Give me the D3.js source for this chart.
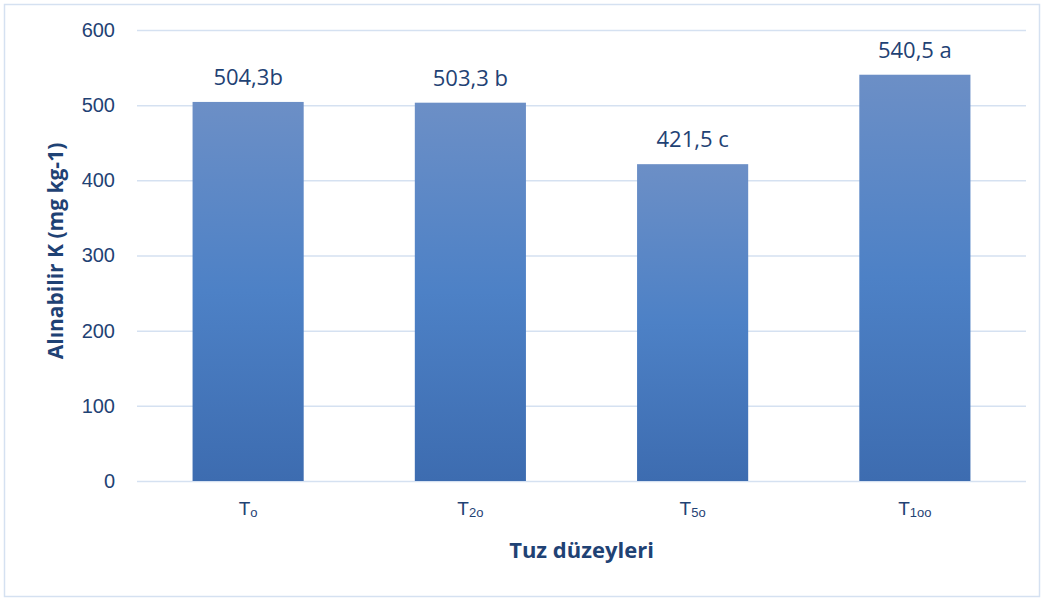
<!DOCTYPE html>
<html>
<head>
<meta charset="utf-8">
<script src="https://cdn.jsdelivr.net/npm/d3@7"></script>
<style>
  body { margin: 0; background: #fff; }
  svg { font-family: "Open Sans", "Liberation Sans", sans-serif; }
</style>
</head>
<body>
<svg id="chart" width="1044" height="601"></svg>
<script>
// data
var levels = ["To", "T2o", "T5o", "T1oo"];
var subs = ["o", "2o", "5o", "1oo"];
var values = [504.3, 503.3, 421.5, 540.5];
var labels = ["504,3b", "503,3 b", "421,5 c", "540,5 a"];
var yTicks = [0, 100, 200, 300, 400, 500, 600];

var W = 1044, H = 601;
var margin = {left: 137, right: 18, top: 30, bottom: 120};
var TEXT = "#1f4274";

var svg = d3.select("#chart");

// outer frame
svg.append("rect")
    .attr("x", 4.5).attr("y", 4.5)
    .attr("width", W - 9).attr("height", H - 9)
    .style("fill", "#fff")
    .style("stroke", "#d5e1f1")
    .style("stroke-width", 1.5);

var defs = svg.append("defs");
var grad = defs.append("linearGradient")
    .attr("id", "barGrad")
    .attr("x1", 0).attr("y1", 0).attr("x2", 0).attr("y2", 1);
grad.append("stop").attr("offset", "0%").attr("stop-color", "#6c8fc6");
grad.append("stop").attr("offset", "50%").attr("stop-color", "#4d81c6");
grad.append("stop").attr("offset", "100%").attr("stop-color", "#3d6cb0");

var x = d3.scaleBand()
    .domain(levels)
    .range([margin.left, W - margin.right])
    .paddingInner(0.5)
    .paddingOuter(0.25);

var y = d3.scaleLinear()
    .domain([0, 600])
    .range([H - margin.bottom, margin.top]);

// gridlines
var yAxis = d3.axisLeft(y)
    .tickValues(yTicks)
    .tickSize(-(W - margin.right - margin.left))
    .tickPadding(22);

var gy = svg.append("g")
    .attr("transform", "translate(" + margin.left + ",0)")
    .call(yAxis);
gy.select(".domain").remove();
gy.selectAll(".tick line")
    .style("stroke", "#d5e1f1")
    .style("stroke-width", 1.5);
gy.selectAll(".tick text")
    .style("fill", TEXT)
    .style("font-size", "20px");

// bars
svg.selectAll("rect.bar")
    .data(values)
    .enter().append("rect")
    .attr("class", "bar")
    .attr("x", function (d, i) { return x(levels[i]); })
    .attr("width", x.bandwidth())
    .attr("y", function (d) { return y(d); })
    .attr("height", function (d) { return y(0) - y(d); })
    .style("fill", "url(#barGrad)");

// value labels
svg.selectAll("text.val")
    .data(values)
    .enter().append("text")
    .attr("class", "val")
    .attr("x", function (d, i) { return x(levels[i]) + x.bandwidth() / 2; })
    .attr("y", function (d) { return y(d) - 17; })
    .attr("text-anchor", "middle")
    .style("fill", TEXT)
    .style("font-size", "22px")
    .text(function (d, i) { return labels[i]; });

// x axis labels with subscripts
var xAxis = d3.axisBottom(x).tickSize(0).tickPadding(28).tickFormat(function () { return ""; });
var gx = svg.append("g")
    .attr("transform", "translate(0," + y(0) + ")")
    .call(xAxis);
gx.select(".domain").remove();
gx.selectAll(".tick text").each(function (d, i) {
    var t = d3.select(this)
        .style("fill", TEXT)
        .style("font-size", "19px")
        .attr("dy", "0.3em");
    t.append("tspan").text("T");
    t.append("tspan")
        .attr("dy", "0.2em")
        .style("font-size", "13px")
        .text(subs[i]);
});

// axis titles
svg.append("text")
    .attr("x", margin.left + (W - margin.right - margin.left) / 2)
    .attr("y", 558)
    .attr("text-anchor", "middle")
    .style("fill", TEXT)
    .style("font-size", "22px")
    .style("font-weight", "bold")
    .text("Tuz düzeyleri");

svg.append("text")
    .attr("transform", "translate(63,251) rotate(-90)")
    .attr("text-anchor", "middle")
    .style("fill", TEXT)
    .style("font-size", "21px")
    .style("font-weight", "bold")
    .text("Alınabilir K (mg kg-1)");
</script>
</body>
</html>
